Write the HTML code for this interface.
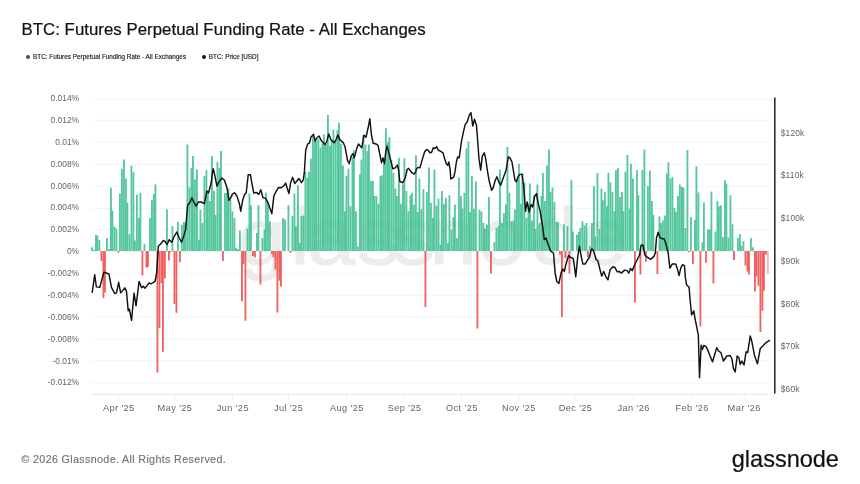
<!DOCTYPE html>
<html><head><meta charset="utf-8"><title>BTC: Futures Perpetual Funding Rate - All Exchanges</title>
<style>
html,body{margin:0;padding:0;background:#fff;}
body{width:860px;height:484px;position:relative;overflow:hidden;font-family:"Liberation Sans",sans-serif;}
.title{position:absolute;left:21.5px;top:20.2px;font-size:16.8px;color:#111;white-space:nowrap;letter-spacing:0.04px;-webkit-text-stroke:0.22px #111}
.legend{position:absolute;top:53.2px;font-size:6.4px;color:#111;white-space:nowrap;-webkit-text-stroke:0.12px #111}
.legend i{position:absolute;width:3.8px;height:3.8px;border-radius:50%;top:1.7px}
.foot{position:absolute;left:21.5px;top:452.5px;font-size:10.7px;color:#727272;white-space:nowrap;letter-spacing:0.36px;-webkit-text-stroke:0.15px #727272}
.logo{position:absolute;left:731.8px;top:445.6px;font-size:23.6px;line-height:27px;color:#111;white-space:nowrap;letter-spacing:-0.05px;-webkit-text-stroke:0.2px #111}
svg text.ax{font-family:"Liberation Sans",sans-serif;font-size:9.2px;fill:#646464;letter-spacing:0.41px}
svg text.ay{font-family:"Liberation Sans",sans-serif;font-size:8.4px;fill:#646464;}
svg text.ar{font-family:"Liberation Sans",sans-serif;font-size:8.4px;fill:#646464;letter-spacing:0.2px}
</style></head><body>
<div class="title">BTC: Futures Perpetual Funding Rate - All Exchanges</div>
<div class="legend" style="left:33px"><i style="background:#4a5060;left:-7.2px"></i>BTC: Futures Perpetual Funding Rate - All Exchanges</div>
<div class="legend" style="left:208.8px"><i style="background:#111;left:-6.8px"></i>BTC: Price [USD]</div>
<svg width="860" height="484" viewBox="0 0 860 484" style="position:absolute;left:0;top:0"><line x1="92.0" x2="768.6" y1="383.07" y2="383.07" stroke="#f3f4f6" stroke-width="1"/><line x1="92.0" x2="768.6" y1="360.80" y2="360.80" stroke="#f3f4f6" stroke-width="1"/><line x1="92.0" x2="768.6" y1="338.93" y2="338.93" stroke="#f3f4f6" stroke-width="1"/><line x1="92.0" x2="768.6" y1="317.06" y2="317.06" stroke="#f3f4f6" stroke-width="1"/><line x1="92.0" x2="768.6" y1="295.19" y2="295.19" stroke="#f3f4f6" stroke-width="1"/><line x1="92.0" x2="768.6" y1="273.32" y2="273.32" stroke="#f3f4f6" stroke-width="1"/><line x1="92.0" x2="768.6" y1="251.45" y2="251.45" stroke="#f3f4f6" stroke-width="1"/><line x1="92.0" x2="768.6" y1="229.88" y2="229.88" stroke="#f3f4f6" stroke-width="1"/><line x1="92.0" x2="768.6" y1="208.51" y2="208.51" stroke="#f3f4f6" stroke-width="1"/><line x1="92.0" x2="768.6" y1="186.34" y2="186.34" stroke="#f3f4f6" stroke-width="1"/><line x1="92.0" x2="768.6" y1="164.47" y2="164.47" stroke="#f3f4f6" stroke-width="1"/><line x1="92.0" x2="768.6" y1="142.10" y2="142.10" stroke="#f3f4f6" stroke-width="1"/><line x1="92.0" x2="768.6" y1="120.23" y2="120.23" stroke="#f3f4f6" stroke-width="1"/><line x1="92.0" x2="768.6" y1="98.86" y2="98.86" stroke="#f3f4f6" stroke-width="1"/><text transform="translate(0,263.5) scale(1.08,1)" x="220.8 268.9 284.7 330.5 363.3 397.6 442.5 491.2 537.5" y="0" font-family="Liberation Sans, sans-serif" font-size="79" fill="#ececec" stroke="#ececec" stroke-width="1.0">glassnode</text><path d="M91.0 251.1V247.2h1.85V251.1zM95.0 251.1V235.0h1.85V251.1zM98.5 251.1V240.0h1.85V251.1zM106.0 251.1V238.0h1.85V251.1zM110.0 251.1V187.7h1.85V251.1zM113.5 251.1V226.6h1.85V251.1zM121.0 251.1V168.7h1.85V251.1zM125.0 251.1V178.5h1.85V251.1zM128.5 251.1V234.3h1.85V251.1zM132.5 251.1V172.3h1.85V251.1zM136.0 251.1V194.4h1.85V251.1zM139.5 251.1V192.8h1.85V251.1zM143.5 251.1V243.8h1.85V251.1zM151.0 251.1V199.8h1.85V251.1zM154.5 251.1V184.4h1.85V251.1zM166.0 251.1V209.2h1.85V251.1zM177.0 251.1V221.7h1.85V251.1zM181.0 251.1V224.9h1.85V251.1zM184.5 251.1V222.9h1.85V251.1zM188.5 251.1V187.4h1.85V251.1zM192.0 251.1V156.1h1.85V251.1zM196.0 251.1V169.5h1.85V251.1zM199.5 251.1V209.8h1.85V251.1zM203.5 251.1V176.0h1.85V251.1zM207.0 251.1V191.1h1.85V251.1zM211.0 251.1V156.1h1.85V251.1zM214.5 251.1V214.9h1.85V251.1zM218.5 251.1V167.9h1.85V251.1zM226.0 251.1V193.1h1.85V251.1zM229.5 251.1V198.6h1.85V251.1zM233.5 251.1V217.9h1.85V251.1zM237.0 251.1V248.9h1.85V251.1zM248.5 251.1V193.6h1.85V251.1zM256.0 251.1V233.0h1.85V251.1zM263.5 251.1V229.6h1.85V251.1zM267.0 251.1V202.0h1.85V251.1zM282.0 251.1V217.9h1.85V251.1zM293.5 251.1V193.6h1.85V251.1zM297.0 251.1V185.2h1.85V251.1zM300.5 251.1V216.2h1.85V251.1zM304.5 251.1V171.8h1.85V251.1zM308.0 251.1V171.8h1.85V251.1zM312.0 251.1V135.2h1.85V251.1zM315.5 251.1V141.1h1.85V251.1zM319.5 251.1V147.8h1.85V251.1zM323.0 251.1V134.4h1.85V251.1zM327.0 251.1V115.1h1.85V251.1zM330.5 251.1V140.2h1.85V251.1zM334.5 251.1V141.9h1.85V251.1zM338.0 251.1V122.7h1.85V251.1zM342.0 251.1V165.4h1.85V251.1zM345.5 251.1V176.0h1.85V251.1zM349.5 251.1V206.2h1.85V251.1zM353.0 251.1V150.3h1.85V251.1zM357.0 251.1V246.4h1.85V251.1zM360.5 251.1V159.5h1.85V251.1zM364.5 251.1V144.4h1.85V251.1zM368.0 251.1V144.4h1.85V251.1zM372.0 251.1V181.0h1.85V251.1zM375.5 251.1V196.1h1.85V251.1zM379.5 251.1V176.0h1.85V251.1zM383.0 251.1V163.7h1.85V251.1zM387.0 251.1V141.9h1.85V251.1zM390.5 251.1V160.3h1.85V251.1zM394.5 251.1V188.6h1.85V251.1zM398.0 251.1V157.8h1.85V251.1zM402.0 251.1V184.4h1.85V251.1zM405.5 251.1V191.1h1.85V251.1zM409.5 251.1V195.3h1.85V251.1zM413.0 251.1V204.5h1.85V251.1zM417.0 251.1V212.0h1.85V251.1zM420.5 251.1V209.2h1.85V251.1zM428.0 251.1V167.4h1.85V251.1zM432.0 251.1V217.9h1.85V251.1zM435.5 251.1V205.8h1.85V251.1zM439.5 251.1V244.7h1.85V251.1zM443.0 251.1V203.7h1.85V251.1zM447.0 251.1V243.0h1.85V251.1zM450.5 251.1V229.6h1.85V251.1zM454.0 251.1V204.5h1.85V251.1zM458.0 251.1V177.7h1.85V251.1zM461.5 251.1V208.7h1.85V251.1zM465.5 251.1V148.6h1.85V251.1zM469.0 251.1V212.0h1.85V251.1zM473.0 251.1V208.7h1.85V251.1zM480.5 251.1V211.5h1.85V251.1zM484.0 251.1V228.8h1.85V251.1zM488.0 251.1V197.0h1.85V251.1zM495.5 251.1V227.9h1.85V251.1zM499.0 251.1V169.5h1.85V251.1zM503.0 251.1V212.9h1.85V251.1zM506.5 251.1V146.9h1.85V251.1zM510.5 251.1V221.2h1.85V251.1zM514.0 251.1V209.5h1.85V251.1zM518.0 251.1V163.7h1.85V251.1zM521.5 251.1V172.7h1.85V251.1zM525.5 251.1V217.9h1.85V251.1zM529.0 251.1V183.6h1.85V251.1zM533.0 251.1V195.3h1.85V251.1zM536.5 251.1V184.4h1.85V251.1zM540.5 251.1V196.1h1.85V251.1zM544.0 251.1V201.1h1.85V251.1zM548.0 251.1V149.4h1.85V251.1zM551.5 251.1V187.4h1.85V251.1zM555.5 251.1V222.1h1.85V251.1zM563.0 251.1V224.2h1.85V251.1zM566.5 251.1V226.3h1.85V251.1zM570.5 251.1V179.7h1.85V251.1zM578.0 251.1V232.1h1.85V251.1zM581.5 251.1V221.2h1.85V251.1zM585.5 251.1V222.9h1.85V251.1zM589.0 251.1V246.0h1.85V251.1zM593.0 251.1V186.1h1.85V251.1zM596.5 251.1V173.0h1.85V251.1zM600.5 251.1V188.6h1.85V251.1zM604.0 251.1V191.9h1.85V251.1zM607.5 251.1V172.7h1.85V251.1zM611.5 251.1V191.9h1.85V251.1zM615.0 251.1V170.0h1.85V251.1zM619.0 251.1V197.0h1.85V251.1zM622.5 251.1V211.2h1.85V251.1zM626.5 251.1V155.0h1.85V251.1zM630.0 251.1V163.7h1.85V251.1zM637.5 251.1V195.3h1.85V251.1zM641.5 251.1V170.0h1.85V251.1zM649.0 251.1V170.4h1.85V251.1zM652.5 251.1V214.9h1.85V251.1zM660.0 251.1V222.9h1.85V251.1zM664.0 251.1V215.4h1.85V251.1zM667.5 251.1V162.3h1.85V251.1zM671.5 251.1V176.9h1.85V251.1zM675.0 251.1V212.0h1.85V251.1zM679.0 251.1V184.4h1.85V251.1zM682.5 251.1V187.7h1.85V251.1zM686.5 251.1V149.9h1.85V251.1zM690.0 251.1V217.0h1.85V251.1zM694.0 251.1V219.9h1.85V251.1zM697.5 251.1V192.4h1.85V251.1zM701.5 251.1V242.2h1.85V251.1zM709.0 251.1V229.3h1.85V251.1zM716.5 251.1V201.1h1.85V251.1zM720.0 251.1V205.3h1.85V251.1zM724.0 251.1V180.2h1.85V251.1zM727.5 251.1V237.6h1.85V251.1zM731.5 251.1V224.2h1.85V251.1zM739.0 251.1V234.3h1.85V251.1zM742.5 251.1V241.0h1.85V251.1zM750.0 251.1V238.0h1.85V251.1z" fill="rgb(59,190,142)" fill-opacity="0.86"/><path d="M93.0 251.1V249.7h1.85V251.1zM96.5 251.1V235.5h1.85V251.1zM108.0 251.1V248.9h1.85V251.1zM111.5 251.1V210.7h1.85V251.1zM115.5 251.1V228.8h1.85V251.1zM119.0 251.1V193.6h1.85V251.1zM123.0 251.1V159.5h1.85V251.1zM126.5 251.1V202.8h1.85V251.1zM130.5 251.1V165.7h1.85V251.1zM134.0 251.1V240.5h1.85V251.1zM138.0 251.1V217.9h1.85V251.1zM149.0 251.1V217.9h1.85V251.1zM153.0 251.1V194.1h1.85V251.1zM171.5 251.1V225.9h1.85V251.1zM183.0 251.1V222.1h1.85V251.1zM186.5 251.1V144.4h1.85V251.1zM190.5 251.1V167.9h1.85V251.1zM194.0 251.1V179.4h1.85V251.1zM198.0 251.1V239.7h1.85V251.1zM201.5 251.1V222.9h1.85V251.1zM205.5 251.1V170.0h1.85V251.1zM209.0 251.1V201.1h1.85V251.1zM213.0 251.1V191.1h1.85V251.1zM216.5 251.1V161.7h1.85V251.1zM220.0 251.1V151.1h1.85V251.1zM224.0 251.1V193.1h1.85V251.1zM227.5 251.1V188.2h1.85V251.1zM231.5 251.1V211.2h1.85V251.1zM235.0 251.1V248.0h1.85V251.1zM239.0 251.1V230.4h1.85V251.1zM246.5 251.1V228.8h1.85V251.1zM250.0 251.1V205.3h1.85V251.1zM257.5 251.1V205.3h1.85V251.1zM261.5 251.1V238.0h1.85V251.1zM265.0 251.1V192.4h1.85V251.1zM269.0 251.1V221.2h1.85V251.1zM284.0 251.1V219.6h1.85V251.1zM287.5 251.1V205.3h1.85V251.1zM291.5 251.1V216.2h1.85V251.1zM295.0 251.1V226.3h1.85V251.1zM299.0 251.1V243.0h1.85V251.1zM302.5 251.1V215.4h1.85V251.1zM306.5 251.1V177.7h1.85V251.1zM310.0 251.1V158.7h1.85V251.1zM314.0 251.1V140.2h1.85V251.1zM317.5 251.1V138.6h1.85V251.1zM321.5 251.1V143.6h1.85V251.1zM325.0 251.1V143.6h1.85V251.1zM329.0 251.1V146.1h1.85V251.1zM332.5 251.1V129.4h1.85V251.1zM336.5 251.1V130.2h1.85V251.1zM340.0 251.1V143.6h1.85V251.1zM344.0 251.1V211.2h1.85V251.1zM347.5 251.1V168.7h1.85V251.1zM351.5 251.1V157.0h1.85V251.1zM355.0 251.1V211.2h1.85V251.1zM359.0 251.1V174.3h1.85V251.1zM362.5 251.1V134.9h1.85V251.1zM366.5 251.1V151.1h1.85V251.1zM370.0 251.1V181.0h1.85V251.1zM373.5 251.1V196.1h1.85V251.1zM377.5 251.1V203.7h1.85V251.1zM381.0 251.1V175.2h1.85V251.1zM385.0 251.1V128.2h1.85V251.1zM388.5 251.1V137.2h1.85V251.1zM392.5 251.1V172.7h1.85V251.1zM396.0 251.1V196.1h1.85V251.1zM400.0 251.1V203.7h1.85V251.1zM403.5 251.1V158.3h1.85V251.1zM407.5 251.1V211.2h1.85V251.1zM411.0 251.1V192.8h1.85V251.1zM415.0 251.1V155.3h1.85V251.1zM418.5 251.1V178.5h1.85V251.1zM422.5 251.1V189.1h1.85V251.1zM426.0 251.1V191.9h1.85V251.1zM430.0 251.1V202.8h1.85V251.1zM433.5 251.1V169.5h1.85V251.1zM437.5 251.1V198.6h1.85V251.1zM441.0 251.1V191.1h1.85V251.1zM445.0 251.1V197.8h1.85V251.1zM448.5 251.1V195.3h1.85V251.1zM452.5 251.1V217.0h1.85V251.1zM456.0 251.1V238.0h1.85V251.1zM460.0 251.1V196.1h1.85V251.1zM463.5 251.1V192.8h1.85V251.1zM467.5 251.1V141.6h1.85V251.1zM471.0 251.1V176.0h1.85V251.1zM475.0 251.1V181.4h1.85V251.1zM478.5 251.1V209.8h1.85V251.1zM482.5 251.1V222.9h1.85V251.1zM486.0 251.1V224.6h1.85V251.1zM493.5 251.1V242.2h1.85V251.1zM497.5 251.1V226.3h1.85V251.1zM501.0 251.1V222.9h1.85V251.1zM505.0 251.1V204.5h1.85V251.1zM508.5 251.1V192.8h1.85V251.1zM512.5 251.1V220.4h1.85V251.1zM516.0 251.1V179.4h1.85V251.1zM520.0 251.1V203.7h1.85V251.1zM523.5 251.1V182.7h1.85V251.1zM527.5 251.1V203.7h1.85V251.1zM531.0 251.1V220.4h1.85V251.1zM534.5 251.1V228.8h1.85V251.1zM538.5 251.1V222.9h1.85V251.1zM542.0 251.1V173.0h1.85V251.1zM546.0 251.1V165.4h1.85V251.1zM549.5 251.1V191.9h1.85V251.1zM553.5 251.1V202.0h1.85V251.1zM557.0 251.1V222.1h1.85V251.1zM572.0 251.1V231.6h1.85V251.1zM576.0 251.1V234.6h1.85V251.1zM579.5 251.1V227.9h1.85V251.1zM583.5 251.1V225.4h1.85V251.1zM591.0 251.1V222.9h1.85V251.1zM594.5 251.1V236.3h1.85V251.1zM598.5 251.1V228.8h1.85V251.1zM602.0 251.1V200.3h1.85V251.1zM606.0 251.1V206.2h1.85V251.1zM609.5 251.1V182.4h1.85V251.1zM613.5 251.1V211.2h1.85V251.1zM617.0 251.1V167.9h1.85V251.1zM621.0 251.1V191.9h1.85V251.1zM624.5 251.1V171.8h1.85V251.1zM628.5 251.1V208.7h1.85V251.1zM632.0 251.1V178.5h1.85V251.1zM636.0 251.1V170.0h1.85V251.1zM643.5 251.1V149.4h1.85V251.1zM647.0 251.1V186.1h1.85V251.1zM651.0 251.1V201.1h1.85V251.1zM658.5 251.1V216.5h1.85V251.1zM662.0 251.1V220.4h1.85V251.1zM666.0 251.1V173.5h1.85V251.1zM669.5 251.1V178.5h1.85V251.1zM673.5 251.1V207.8h1.85V251.1zM677.0 251.1V196.1h1.85V251.1zM681.0 251.1V186.9h1.85V251.1zM684.5 251.1V227.9h1.85V251.1zM695.5 251.1V166.2h1.85V251.1zM703.0 251.1V202.5h1.85V251.1zM707.0 251.1V229.6h1.85V251.1zM710.5 251.1V191.4h1.85V251.1zM714.5 251.1V231.6h1.85V251.1zM718.0 251.1V206.2h1.85V251.1zM722.0 251.1V237.1h1.85V251.1zM725.5 251.1V183.6h1.85V251.1zM729.5 251.1V195.3h1.85V251.1zM737.0 251.1V238.0h1.85V251.1zM740.5 251.1V246.0h1.85V251.1zM752.0 251.1V247.2h1.85V251.1z" fill="rgb(59,190,142)" fill-opacity="0.86"/><path d="M102.5 251.1V297.9h1.85V251.1zM117.5 251.1V252.7h1.85V251.1zM147.0 251.1V266.8h1.85V251.1zM158.5 251.1V328.0h1.85V251.1zM162.0 251.1V351.8h1.85V251.1zM169.5 251.1V252.2h1.85V251.1zM173.5 251.1V304.1h1.85V251.1zM222.0 251.1V261.1h1.85V251.1zM241.0 251.1V301.6h1.85V251.1zM244.5 251.1V320.8h1.85V251.1zM252.0 251.1V256.0h1.85V251.1zM259.5 251.1V284.5h1.85V251.1zM271.0 251.1V253.9h1.85V251.1zM274.5 251.1V269.4h1.85V251.1zM278.5 251.1V280.7h1.85V251.1zM289.5 251.1V252.7h1.85V251.1zM424.5 251.1V306.9h1.85V251.1zM476.5 251.1V328.4h1.85V251.1zM559.0 251.1V254.7h1.85V251.1zM634.0 251.1V302.4h1.85V251.1zM645.0 251.1V261.7h1.85V251.1zM656.5 251.1V274.0h1.85V251.1zM705.0 251.1V262.7h1.85V251.1zM712.5 251.1V283.5h1.85V251.1zM746.5 251.1V271.4h1.85V251.1zM754.0 251.1V291.5h1.85V251.1zM757.5 251.1V285.7h1.85V251.1zM761.5 251.1V310.8h1.85V251.1zM765.0 251.1V254.7h1.85V251.1z" fill="rgb(238,80,80)" fill-opacity="0.9"/><path d="M100.5 251.1V261.1h1.85V251.1zM104.0 251.1V292.4h1.85V251.1zM141.5 251.1V275.6h1.85V251.1zM145.5 251.1V267.6h1.85V251.1zM156.5 251.1V372.4h1.85V251.1zM160.5 251.1V283.2h1.85V251.1zM164.0 251.1V278.5h1.85V251.1zM168.0 251.1V260.6h1.85V251.1zM175.5 251.1V312.8h1.85V251.1zM179.0 251.1V262.2h1.85V251.1zM242.5 251.1V263.9h1.85V251.1zM254.0 251.1V257.2h1.85V251.1zM272.5 251.1V257.2h1.85V251.1zM276.5 251.1V312.5h1.85V251.1zM280.0 251.1V286.5h1.85V251.1zM490.0 251.1V273.5h1.85V251.1zM561.0 251.1V317.0h1.85V251.1zM564.5 251.1V258.0h1.85V251.1zM568.5 251.1V273.5h1.85V251.1zM587.0 251.1V257.2h1.85V251.1zM639.5 251.1V274.5h1.85V251.1zM688.0 251.1V252.2h1.85V251.1zM692.0 251.1V263.9h1.85V251.1zM699.5 251.1V326.4h1.85V251.1zM733.0 251.1V260.1h1.85V251.1zM744.5 251.1V265.6h1.85V251.1zM748.0 251.1V274.5h1.85V251.1zM755.5 251.1V276.5h1.85V251.1zM759.5 251.1V332.1h1.85V251.1zM763.0 251.1V290.7h1.85V251.1z" fill="rgb(238,80,80)" fill-opacity="0.9"/><rect x="767.0" y="251.1" width="1.85" height="22.9" fill="rgb(238,80,80)" fill-opacity="0.42"/><line x1="92.0" x2="768.6" y1="394.2" y2="394.2" stroke="#e3e7ee" stroke-width="1.1"/><line x1="118.6" x2="118.6" y1="394.9" y2="400.3" stroke="#eef0f5" stroke-width="1"/><text x="118.8" y="411.0" text-anchor="middle" class="ax">Apr '25</text><line x1="174.8" x2="174.8" y1="394.9" y2="400.3" stroke="#eef0f5" stroke-width="1"/><text x="175.0" y="411.0" text-anchor="middle" class="ax">May '25</text><line x1="232.6" x2="232.6" y1="394.9" y2="400.3" stroke="#eef0f5" stroke-width="1"/><text x="232.79999999999998" y="411.0" text-anchor="middle" class="ax">Jun '25</text><line x1="288.4" x2="288.4" y1="394.9" y2="400.3" stroke="#eef0f5" stroke-width="1"/><text x="288.59999999999997" y="411.0" text-anchor="middle" class="ax">Jul '25</text><line x1="346.6" x2="346.6" y1="394.9" y2="400.3" stroke="#eef0f5" stroke-width="1"/><text x="346.8" y="411.0" text-anchor="middle" class="ax">Aug '25</text><line x1="404.4" x2="404.4" y1="394.9" y2="400.3" stroke="#eef0f5" stroke-width="1"/><text x="404.59999999999997" y="411.0" text-anchor="middle" class="ax">Sep '25</text><line x1="461.7" x2="461.7" y1="394.9" y2="400.3" stroke="#eef0f5" stroke-width="1"/><text x="461.9" y="411.0" text-anchor="middle" class="ax">Oct '25</text><line x1="518.7" x2="518.7" y1="394.9" y2="400.3" stroke="#eef0f5" stroke-width="1"/><text x="518.9000000000001" y="411.0" text-anchor="middle" class="ax">Nov '25</text><line x1="575.3" x2="575.3" y1="394.9" y2="400.3" stroke="#eef0f5" stroke-width="1"/><text x="575.5" y="411.0" text-anchor="middle" class="ax">Dec '25</text><line x1="633.5" x2="633.5" y1="394.9" y2="400.3" stroke="#eef0f5" stroke-width="1"/><text x="633.7" y="411.0" text-anchor="middle" class="ax">Jan '26</text><line x1="692" x2="692" y1="394.9" y2="400.3" stroke="#eef0f5" stroke-width="1"/><text x="692.2" y="411.0" text-anchor="middle" class="ax">Feb '26</text><line x1="744" x2="744" y1="394.9" y2="400.3" stroke="#eef0f5" stroke-width="1"/><text x="744.2" y="411.0" text-anchor="middle" class="ax">Mar '26</text><text x="79" y="101.06" text-anchor="end" class="ay">0.014%</text><text x="79" y="122.93" text-anchor="end" class="ay">0.012%</text><text x="79" y="144.80" text-anchor="end" class="ay">0.01%</text><text x="79" y="166.67" text-anchor="end" class="ay">0.008%</text><text x="79" y="188.54" text-anchor="end" class="ay">0.006%</text><text x="79" y="210.41" text-anchor="end" class="ay">0.004%</text><text x="79" y="232.28" text-anchor="end" class="ay">0.002%</text><text x="79" y="254.15" text-anchor="end" class="ay">0%</text><text x="79" y="276.02" text-anchor="end" class="ay">-0.002%</text><text x="79" y="297.89" text-anchor="end" class="ay">-0.004%</text><text x="79" y="319.76" text-anchor="end" class="ay">-0.006%</text><text x="79" y="341.63" text-anchor="end" class="ay">-0.008%</text><text x="79" y="363.50" text-anchor="end" class="ay">-0.01%</text><text x="79" y="385.37" text-anchor="end" class="ay">-0.012%</text><line x1="774.8" x2="774.8" y1="97.5" y2="393.4" stroke="#222" stroke-width="1.5"/><text x="780.7" y="135.60" class="ar">$120k</text><text x="780.7" y="178.35" class="ar">$110k</text><text x="780.7" y="221.10" class="ar">$100k</text><text x="780.7" y="263.85" class="ar">$90k</text><text x="780.7" y="306.60" class="ar">$80k</text><text x="780.7" y="349.35" class="ar">$70k</text><text x="780.7" y="392.10" class="ar">$60k</text><path d="M92.19 292.37 L94.70 274.79 L96.37 286.85 L99.72 287.35 L103.91 272.28 L108.93 273.95 L111.44 287.35 L114.79 293.55 L116.47 292.88 L118.64 282.33 L120.65 292.88 L124.84 287.85 L126.51 291.54 L128.19 310.79 L129.36 309.12 L131.54 320.34 L134.05 293.21 L136.06 305.77 L139.07 281.49 L141.58 287.85 L143.26 286.18 L144.93 288.19 L149.12 282.83 L150.79 284.00 L154.98 281.49 L156.65 273.12 L157.99 251.35 L158.33 246.35 L160.84 243.84 L163.35 240.49 L165.03 241.33 L167.04 244.68 L169.21 239.65 L171.72 242.17 L174.24 236.30 L176.75 232.12 L179.26 237.98 L181.44 242.17 L183.45 237.14 L185.62 229.61 L187.63 205.33 L189.81 202.82 L191.82 197.79 L193.83 201.98 L196.00 206.16 L198.52 201.98 L201.03 201.98 L204.38 203.65 L206.89 191.09 L208.56 192.77 L211.07 183.56 L212.25 174.35 L213.25 168.70 L214.59 174.35 L216.94 186.07 L219.45 181.05 L221.96 178.03 L224.47 180.21 L226.98 187.74 L228.99 200.30 L232.01 195.28 L232.00 194.44 L234.51 192.77 L237.02 196.12 L239.54 204.49 L240.71 211.19 L242.88 199.47 L244.56 194.44 L246.23 192.77 L248.24 174.68 L250.42 174.68 L252.09 184.40 L253.77 193.10 L256.28 192.43 L258.79 194.44 L260.80 189.75 L262.98 197.79 L265.49 198.13 L268.00 202.82 L271.85 213.70 L273.86 196.12 L275.87 191.93 L278.55 187.41 L281.40 187.74 L283.91 185.74 L285.58 183.06 L288.93 193.61 L290.61 182.72 L292.62 177.36 L294.79 183.56 L298.98 178.54 L301.49 182.72 L303.17 180.21 L304.34 172.67 L305.68 150.28 L307.69 143.92 L309.36 143.25 L311.04 136.89 L313.55 134.37 L315.22 141.07 L316.90 137.72 L319.07 136.05 L321.58 141.07 L324.93 144.42 L326.61 141.91 L328.78 133.87 L330.79 139.40 L334.14 142.75 L335.82 140.23 L337.83 134.88 L340.00 139.90 L343.35 142.75 L345.03 146.93 L347.54 160.33 L349.21 163.68 L351.22 156.14 L352.90 153.63 L354.24 157.82 L356.75 148.61 L358.42 143.92 L361.77 147.77 L363.95 135.21 L365.96 137.22 L367.97 128.51 L369.81 118.80 L371.48 135.21 L373.16 143.25 L376.01 143.92 L376.00 143.92 L378.01 145.26 L379.68 153.63 L381.53 162.84 L383.03 157.82 L384.37 163.68 L385.71 151.96 L387.05 146.10 L389.06 153.63 L390.74 160.33 L392.74 168.70 L395.26 167.86 L397.43 165.02 L398.61 170.38 L399.78 181.38 L402.79 182.72 L405.30 177.70 L406.64 171.84 L406.98 169.54 L408.65 168.37 L410.33 170.71 L412.00 172.67 L414.18 174.01 L415.85 171.33 L416.19 169.54 L417.86 167.36 L419.87 167.86 L422.05 160.33 L424.56 151.96 L426.57 149.44 L428.24 150.28 L429.92 152.79 L431.59 152.29 L433.27 147.77 L434.94 148.61 L436.62 146.60 L438.29 150.28 L440.47 151.12 L442.98 152.79 L444.65 158.65 L446.33 163.68 L447.67 165.35 L448.84 162.00 L450.18 170.04 L450.85 179.04 L453.86 176.86 L455.04 171.33 L456.38 162.00 L457.71 156.98 L459.22 157.82 L461.40 141.91 L463.41 131.86 L465.25 124.33 L467.26 121.82 L469.27 115.12 L470.94 112.61 L472.78 126.00 L474.46 119.30 L476.47 125.16 L477.64 140.23 L478.98 158.65 L480.66 170.04 L482.33 156.14 L484.34 152.79 L485.68 158.65 L487.35 170.38 L489.03 180.21 L491.54 190.26 L493.21 187.74 L495.22 180.21 L496.90 176.86 L499.07 182.72 L500.75 185.23 L502.42 180.21 L504.60 174.35 L505.77 171.33 L506.61 167.03 L508.28 156.98 L509.96 157.82 L511.97 162.00 L513.31 170.04 L514.98 180.21 L516.32 181.88 L518.33 176.02 L520.01 174.35 L520.00 174.35 L522.01 174.35 L523.68 186.07 L525.53 211.19 L527.20 201.98 L529.21 212.02 L530.88 204.49 L532.56 207.00 L534.74 196.12 L536.41 193.61 L538.08 202.82 L540.09 211.19 L542.61 226.26 L544.28 239.65 L545.95 237.98 L547.63 243.00 L550.14 249.70 L550.98 251.35 L553.49 253.02 L555.16 273.12 L556.84 281.49 L558.85 283.50 L561.02 273.12 L562.70 268.93 L564.37 271.44 L566.05 263.91 L568.56 255.54 L570.23 257.21 L573.25 258.38 L574.42 266.42 L575.76 276.80 L577.77 256.37 L578.94 249.67 L579.44 246.35 L580.28 251.35 L582.79 263.91 L585.30 263.91 L587.82 259.72 L589.49 257.21 L591.17 250.01 L592.00 248.86 L593.68 251.01 L596.19 259.72 L597.86 260.56 L600.04 269.77 L601.71 276.13 L603.72 271.44 L605.73 276.47 L607.91 279.82 L610.09 269.77 L612.93 266.75 L615.11 267.76 L617.12 271.78 L619.13 271.44 L621.31 273.12 L624.66 270.10 L627.17 270.61 L628.84 273.12 L630.52 268.43 L632.19 270.61 L634.70 264.74 L637.21 259.72 L639.73 254.70 L640.90 245.51 L643.07 245.01 L644.75 254.70 L647.26 257.21 L650.61 259.39 L653.96 256.37 L655.30 253.02 L656.47 237.98 L658.14 232.12 L659.82 237.14 L662.33 238.82 L664.01 238.82 L664.00 238.82 L665.67 243.00 L667.35 249.70 L668.19 253.02 L669.86 268.09 L672.37 263.91 L675.72 263.91 L677.40 268.93 L679.07 275.63 L680.74 268.09 L682.42 264.74 L684.43 265.58 L685.43 278.14 L686.61 284.84 L689.12 287.35 L689.95 298.23 L691.63 314.98 L693.81 310.79 L694.98 318.33 L696.65 326.70 L698.33 335.07 L699.50 377.77 L701.17 345.12 L702.51 349.30 L703.85 345.45 L705.86 346.46 L707.87 350.14 L710.05 356.00 L712.56 361.86 L714.23 356.00 L716.75 347.63 L718.42 350.98 L720.93 352.65 L723.44 361.02 L726.79 356.00 L730.14 355.50 L731.82 358.51 L733.49 368.56 L735.17 371.91 L737.17 356.00 L738.85 357.68 L740.19 364.37 L741.86 361.02 L744.04 364.88 L746.05 351.82 L747.72 352.65 L750.24 335.91 L751.91 341.77 L754.42 355.16 L757.44 363.87 L760.28 348.47 L762.79 345.95 L766.14 342.61 L769.49 340.43" fill="none" stroke="#111" stroke-width="1.45" stroke-linejoin="round" stroke-linecap="round"/></svg>
<div class="foot">© 2026 Glassnode. All Rights Reserved.</div>
<div class="logo">glassnode</div>
</body></html>
